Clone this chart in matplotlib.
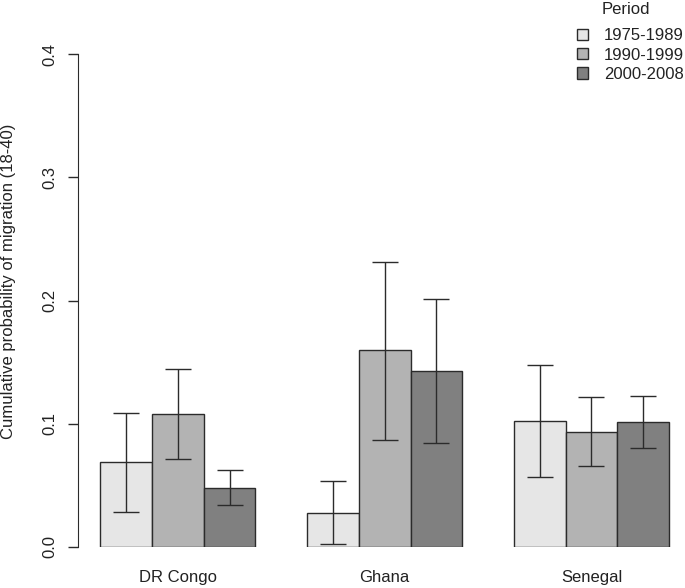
import matplotlib
matplotlib.use('Agg')
import matplotlib.pyplot as plt
import numpy as np

plt.rcParams['font.family'] = ['Liberation Sans', 'DejaVu Sans']

countries = ['DR Congo', 'Ghana', 'Senegal']
periods = ['1975-1989', '1990-1999', '2000-2008']
colors = ['#E6E6E6', '#B3B3B3', '#808080']

# estimates per period (DR Congo, Ghana, Senegal)
est_1975 = [0.0686, 0.0276, 0.1021]
est_1990 = [0.1078, 0.1595, 0.0934]
est_2000 = [0.0477, 0.1427, 0.1013]
# lower / upper CI
low_1975 = [0.0282, 0.0020, 0.0569]
low_1990 = [0.0710, 0.0867, 0.0656]
low_2000 = [0.0336, 0.0842, 0.0802]
up_1975 = [0.1086, 0.0531, 0.1474]
up_1990 = [0.1444, 0.2310, 0.1216]
up_2000 = [0.0621, 0.2012, 0.1227]

ests = [est_1975, est_1990, est_2000]
lows = [low_1975, low_1990, low_2000]
ups = [up_1975, up_1990, up_2000]

W, H = 685, 588
fig = plt.figure(figsize=(W / 100, H / 100), dpi=100)
ax = fig.add_axes([77.7 / W, (H - 546.7) / H, (691.7 - 77.7) / W, (546.7 - 54.3) / H])

group_pos = np.arange(len(countries)) * 4 + 1.5
edge = '#2b2b2b'
for i, p in enumerate(periods):
    x = group_pos + i
    ax.bar(x, ests[i], width=1.0, color=colors[i], edgecolor=edge, linewidth=1.0, label=p, zorder=2)
    e = np.array(ests[i]); lo = np.array(lows[i]); hi = np.array(ups[i])
    ax.errorbar(x, e, yerr=[e - lo, hi - e], fmt='none', ecolor=edge, elinewidth=1.0,
                capsize=9.6, capthick=1.0, zorder=3)

ax.set_xlim(0.56, 12.44)
ax.set_ylim(0, 0.4)
for s in ['top', 'right', 'bottom']:
    ax.spines[s].set_visible(False)
ax.spines['left'].set_bounds(0, 0.4)
ax.spines['left'].set_color(edge)
ax.set_yticks([0.0, 0.1, 0.2, 0.3, 0.4])
ax.set_yticklabels(['0.0', '0.1', '0.2', '0.3', '0.4'], rotation=90, va='center', fontsize=12, color='#222222')
ax.tick_params(axis='y', length=7.5, width=1.0, pad=6.8, color=edge)
ax.set_xticks(group_pos + 1)
ax.set_xticklabels(countries, fontsize=12, color='#222222')
ax.tick_params(axis='x', length=0, pad=16.5)

fig.text(9 / W, 1 - 281 / H, 'Cumulative probability of migration (18-40)', rotation=90,
         ha='center', va='center', fontsize=12, color='#222222')

leg = fig.legend(loc='upper right', bbox_to_anchor=(684 / W, 1 - 28.5 / H), frameon=False,
                 fontsize=12, handlelength=0.65, handleheight=0.65,
                 handletextpad=0.95, labelspacing=0.25, borderaxespad=0, borderpad=0)
for t in leg.get_texts():
    t.set_color('#222222')
fig.text(626 / W, 1 - 9 / H, 'Period', ha='center', va='center', fontsize=12, color='#222222')

fig.savefig('out.png', dpi=100)
